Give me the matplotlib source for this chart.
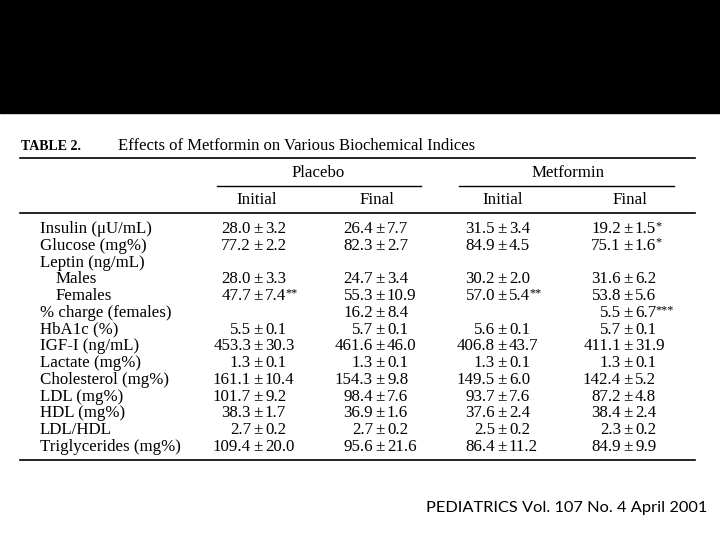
import matplotlib
matplotlib.use("Agg")
import matplotlib.pyplot as plt

# table content
row_labels = ["Insulin (\u03bcU/mL)", "Glucose (mg%)", "Leptin (ng/mL)", "Males", "Females",
              "% charge (females)", "HbA1c (%)", "IGF-I (ng/mL)", "Lactate (mg%)",
              "Cholesterol (mg%)", "LDL (mg%)", "HDL (mg%)", "LDL/HDL", "Triglycerides (mg%)"]
indented = [False, False, False, True, True, False, False, False, False, False, False, False, False, False]

placebo_init_mean = [28.0, 77.2, None, 28.0, 47.7, None, 5.5, 453.3, 1.3, 161.1, 101.7, 38.3, 2.7, 109.4]
placebo_init_sd = [3.2, 2.2, None, 3.3, 7.4, None, 0.1, 30.3, 0.1, 10.4, 9.2, 1.7, 0.2, 20.0]
placebo_init_sig = ["", "", "", "", "**", "", "", "", "", "", "", "", "", ""]

placebo_final_mean = [26.4, 82.3, None, 24.7, 55.3, 16.2, 5.7, 461.6, 1.3, 154.3, 98.4, 36.9, 2.7, 95.6]
placebo_final_sd = [7.7, 2.7, None, 3.4, 10.9, 8.4, 0.1, 46.0, 0.1, 9.8, 7.6, 1.6, 0.2, 21.6]
placebo_final_sig = [""] * 14

metformin_init_mean = [31.5, 84.9, None, 30.2, 57.0, None, 5.6, 406.8, 1.3, 149.5, 93.7, 37.6, 2.5, 86.4]
metformin_init_sd = [3.4, 4.5, None, 2.0, 5.4, None, 0.1, 43.7, 0.1, 6.0, 7.6, 2.4, 0.2, 11.2]
metformin_init_sig = ["", "", "", "", "**", "", "", "", "", "", "", "", "", ""]

metformin_final_mean = [19.2, 75.1, None, 31.6, 53.8, 5.5, 5.7, 411.1, 1.3, 142.4, 87.2, 38.4, 2.3, 84.9]
metformin_final_sd = [1.5, 1.6, None, 6.2, 5.6, 6.7, 0.1, 31.9, 0.1, 5.2, 4.8, 2.4, 0.2, 9.9]
metformin_final_sig = ["*", "*", "", "", "", "***", "", "", "", "", "", "", "", ""]

groups = ["Placebo", "Metformin"]
sub_headers = ["Initial", "Final", "Initial", "Final"]
footer = "PEDIATRICS Vol. 107 No. 4 April 2001"

SERIF = "Liberation Serif"
FS = 12.2

fig = plt.figure(figsize=(7.2, 5.4), dpi=100)
ax = fig.add_axes([0, 0, 1, 1])
ax.set_xlim(0, 720)
ax.set_ylim(540, 0)
ax.axis("off")
renderer = fig.canvas.get_renderer()

# black band on top
ax.axhspan(0, 113, color="black")

# title
ax.text(21, 146, "TABLE 2.", fontname=SERIF, fontweight="bold", fontsize=10, va="center")
ax.text(118, 146, "Effects of Metformin on Various Biochemical Indices", fontname=SERIF,
        fontsize=12, va="center")

# rules
ax.plot([20, 695], [158, 158], color="black", lw=1.2)
ax.plot([20, 695], [213, 213], color="black", lw=1.2)
ax.plot([20, 695], [460, 460], color="black", lw=1.2)
ax.plot([217, 421], [186, 186], color="black", lw=1.0)
ax.plot([459, 674], [186, 186], color="black", lw=1.0)

# headers
for name, xc in zip(groups, [318, 568]):
    ax.text(xc, 173, name, fontname=SERIF, fontsize=FS, ha="center", va="center")
for name, xc in zip(sub_headers, [257, 377, 503, 630]):
    ax.text(xc, 200, name, fontname=SERIF, fontsize=FS, ha="center", va="center")

# body
columns = [
    (placebo_init_mean, placebo_init_sd, placebo_init_sig, 258),
    (placebo_final_mean, placebo_final_sd, placebo_final_sig, 380),
    (metformin_init_mean, metformin_init_sd, metformin_init_sig, 502),
    (metformin_final_mean, metformin_final_sd, metformin_final_sig, 628),
]
y0, dy = 229, 16.77
for i, lab in enumerate(row_labels):
    y = y0 + i * dy
    ax.text(56 if indented[i] else 40, y, lab, fontname=SERIF, fontsize=FS, va="center")
    for means, sds, sigs, xpm in columns:
        if means[i] is None:
            continue
        ax.text(xpm - 7, y, f"{means[i]:.1f}", fontname=SERIF, fontsize=FS, ha="right", va="center")
        ax.text(xpm, y, "\u00b1", fontname=SERIF, fontsize=FS, ha="center", va="center")
        t = ax.text(xpm + 7, y, f"{sds[i]:.1f}", fontname=SERIF, fontsize=FS, ha="left", va="center")
        if sigs[i]:
            x_end = t.get_window_extent(renderer).x1
            ax.text(x_end - 1, y - 3, sigs[i], fontname=SERIF, fontsize=FS - 3.5,
                    ha="left", va="center")

ax.text(707, 508, footer, fontname="Lato", fontsize=11.8, ha="right", va="center")

fig.savefig("out.png", dpi=100)
